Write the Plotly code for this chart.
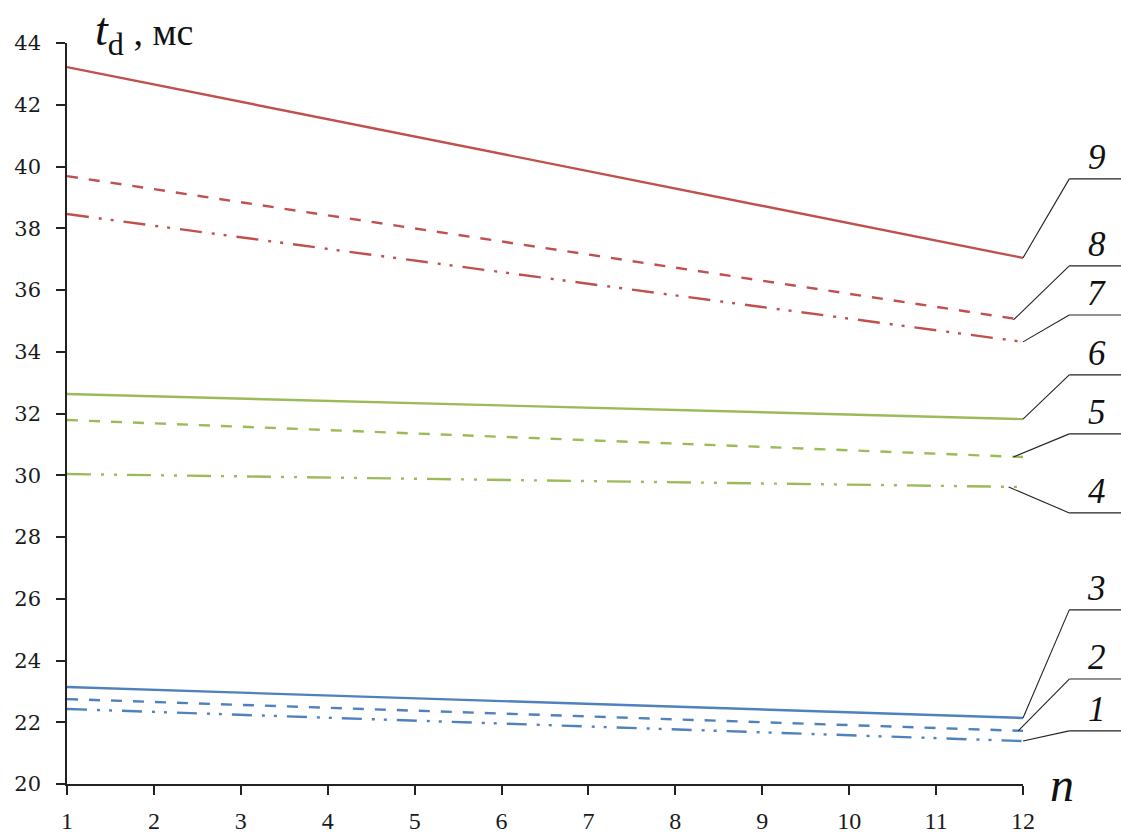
import plotly.graph_objects as go

# ---- data ----
n_vals = [1, 12]
curve_ids = ["1", "2", "3", "4", "5", "6", "7", "8", "9"]
y_1 = [22.43, 21.39]
y_2 = [22.75, 21.72]
y_3 = [23.14, 22.14]
y_4 = [30.04, 29.62]
y_5 = [31.79, 30.59]
y_6 = [32.63, 31.82]
y_7 = [38.46, 34.32]
y_8 = [39.69, 35.03]
y_9 = [43.22, 37.04]
series = [y_1, y_2, y_3, y_4, y_5, y_6, y_7, y_8, y_9]
# callout shelf heights (data units) for the numbered labels
label_levels = [21.72, 23.40, 25.64, 28.78, 31.34, 33.25, 35.19, 36.78, 39.60]
x_ticks = list(range(1, 13))
y_ticks = list(range(20, 46, 2))

BLUE = "#4F81BD"
GREEN = "#9BBB59"
RED = "#C0504D"
colors = [BLUE, BLUE, BLUE, GREEN, GREEN, GREEN, RED, RED, RED]
DDOT_B = "20px,10px,3px,9px,3px,10px"
DDOT_G = "24px,10px,3px,10px,3px,10px"
DDOT_R = "22px,10px,3px,9px,3px,10px"
DASH = "11px,11px"
dashes = [DDOT_B, DASH, "solid", DDOT_G, DASH, "solid", DDOT_R, DASH, "solid"]
leader_start = [1.0, 0.995, 1.0, 0.985, 0.99, 1.0, 1.0, 0.99, 1.0]

fig = go.Figure()
for cid, ys, c, d in zip(curve_ids, series, colors, dashes):
    fig.add_trace(go.Scatter(x=n_vals, y=ys, mode="lines", name=cid,
                             line=dict(color=c, width=2.4, dash=d)))

shapes = []
annotations = []
for cid, ys, lvl, xs in zip(curve_ids, series, label_levels, leader_start):
    yend = ys[-1]
    shapes.append(dict(type="line", xref="paper", yref="y", x0=xs, y0=yend,
                       x1=1.0484, y1=lvl, line=dict(color="#222", width=1.1)))
    shapes.append(dict(type="line", xref="paper", yref="y", x0=1.0484, y0=lvl,
                       x1=1.11, y1=lvl, line=dict(color="#222", width=1.1)))
    annotations.append(dict(text="<i>%s</i>" % cid, xref="paper", yref="y", x=1.077, y=lvl,
                            xanchor="center", yanchor="bottom", showarrow=False,
                            font=dict(family="Liberation Serif", size=35, color="#111")))

annotations.append(dict(
    text="<i>t</i><sub>d</sub><span style='font-size:38px'> , мс</span>",
    xref="paper", yref="paper", x=0.027, y=0.972, xanchor="left", yanchor="bottom",
    showarrow=False, font=dict(family="Liberation Serif", size=46, color="#111")))
annotations.append(dict(text="<i>n</i>", xref="paper", yref="paper",
                        x=1.041, y=0.0, xanchor="center", yanchor="middle", showarrow=False,
                        font=dict(family="Liberation Serif", size=48, color="#111")))

axis_common = dict(showgrid=False, zeroline=False, showline=True, linecolor="#222",
                   linewidth=1.5, ticks="outside", ticklen=9, tickwidth=1.5, tickcolor="#222",
                   automargin=False)

fig.update_layout(
    width=1121, height=833,
    margin=dict(l=67, r=98, t=43, b=49, autoexpand=False),
    paper_bgcolor="white", plot_bgcolor="white",
    showlegend=False,
    shapes=shapes, annotations=annotations,
    xaxis=dict(range=[1, 12], tickvals=x_ticks, ticklabelstandoff=5,
               tickfont=dict(family="Liberation Serif", size=24, color="#1a1a1a"),
               **axis_common),
    yaxis=dict(range=[20, 44], tickvals=y_ticks, ticklabelstandoff=11,
               tickfont=dict(family="DejaVu Serif", size=21, color="#1a1a1a"),
               **axis_common),
)

fig.write_html("out.html", config={"displayModeBar": False},
               post_script="document.body.style.margin='0';")
